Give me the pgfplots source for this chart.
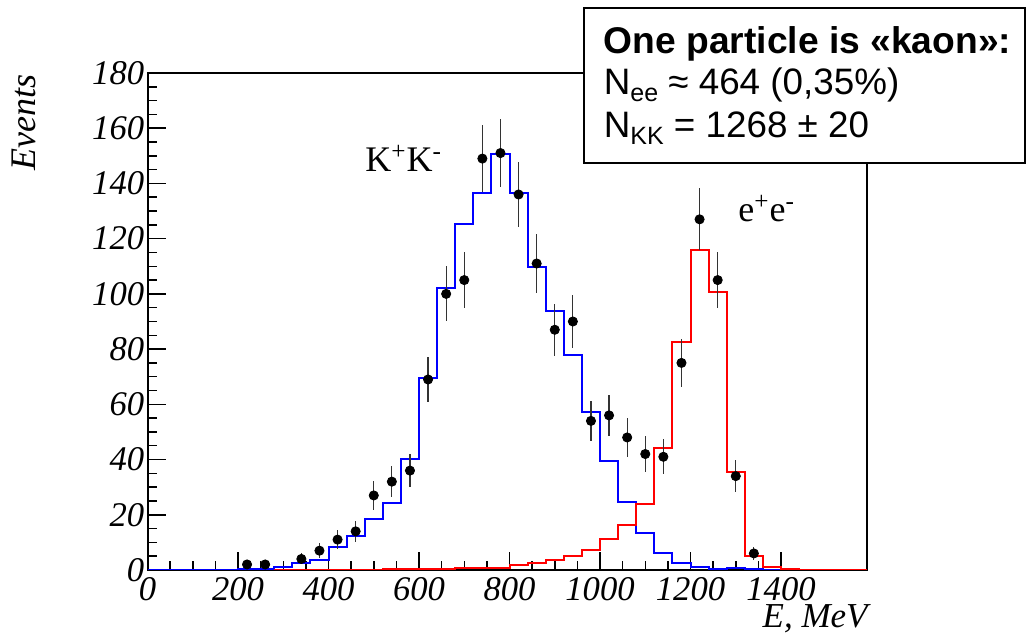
\documentclass[border=0pt]{standalone}
\usepackage{fontspec}
\setmainfont{Liberation Serif}
\newfontfamily\arial{Liberation Sans}
\usepackage{pgfplots}
\usepackage{pgfplotstable}
\pgfplotsset{compat=1.18}

% simulated K+K- spectrum (left bin edge, events)
\pgfplotstableread{
E    N
0    0
40   0
80   0
120  0
160  0.1
200  0.2
240  0.3
280  1.0
320  2.7
360  3.6
400  8.2
440  12.3
480  18.6
520  24.4
560  40.2
600  69.6
640  102.3
680  125.3
720  136.5
760  150.6
800  136.7
840  109.9
880  93.7
920  77.7
960  57.1
1000 39.6
1040 24.7
1080 13.3
1120 6.3
1160 2.6
1200 1.0
1240 0.3
1280 0.6
1320 0.2
1360 0.1
1400 0
1590 0
}\kaons

% simulated e+e- spectrum (left bin edge, events)
\pgfplotstableread{
E    N
280  0
520  0.2
560  0.4
600  0.5
640  0.5
680  0.7
720  0.8
760  0.9
800  1.8
840  2.4
880  3.5
920  5.2
960  7.2
1000 11.1
1040 16.3
1080 23.9
1120 44.1
1160 82.7
1200 116.0
1240 100.5
1280 35.4
1320 5.1
1360 1.0
1400 0.3
1440 0
1590 0
}\electrons

% measured events (bin centre, events, statistical error)
\pgfplotstableread{
E    N    dN
220  2    1.41
260  2    1.41
340  4    2.00
380  7    2.65
420  11   3.32
460  14   3.74
500  27   5.20
540  32   5.66
580  36   6.00
620  69   8.31
660  100  10.00
700  105  10.25
740  149  12.21
780  151  12.29
820  136  11.66
860  111  10.54
900  87   9.33
940  90   9.49
980  54   7.35
1020 56   7.48
1060 48   6.93
1100 42   6.48
1140 41   6.40
1180 75   8.66
1220 127  11.27
1260 105  10.25
1300 34   5.83
1340 6    2.45
}\measured

\begin{document}
\begin{tikzpicture}
\useasboundingbox (0,0) rectangle (513pt,317.5pt);
\begin{axis}[
  at={(73.75pt,32.5pt)}, anchor=south west,
  scale only axis, width=359.75pt, height=248.5pt,
  xmin=0, xmax=1590, ymin=0, ymax=180,
  xtick={0,200,...,1400}, ytick={0,20,...,180},
  minor x tick num=3, minor y tick num=3,
  tick align=inside, xtick pos=bottom, ytick pos=left,
  major tick length=9pt, minor tick length=4.5pt,
  axis line style={line width=1pt},
  every tick/.style={black, line width=0.75pt},
  /pgf/number format/assume math mode=true,
  /pgf/number format/1000 sep={},
  tick label style={font=\itshape\fontsize{17.3}{20}\selectfont},
  xticklabel style={anchor=north, inner sep=0pt, yshift=-3.3pt},
  yticklabel style={anchor=east, inner sep=0pt, xshift=-1.5pt},
]
\addplot[const plot, draw={rgb,255:red,0;green,0;blue,255}, line width=1pt] table[x=E, y=N] {\kaons};
\addplot[const plot, draw={rgb,255:red,255;green,0;blue,0}, line width=1pt] table[x=E, y=N] {\electrons};
\addplot[only marks, mark=*, mark size=2.3pt, mark options={fill=black, draw=black},
  error bars/.cd, y dir=both, y explicit, error mark=none,
  error bar style={line width=0.6pt, black!80}]
  table[x=E, y=N, y error=dN] {\measured};
\end{axis}

% channel labels
\node[anchor=base west, inner sep=0pt, font=\fontsize{18}{20}\selectfont] at (182.5pt,231.7pt) {K\textsuperscript{+}K\textsuperscript{-}};
\node[anchor=base west, inner sep=0pt, font=\fontsize{18}{20}\selectfont] at (369pt,206.6pt) {e\textsuperscript{+}e\textsuperscript{-}};

% axis titles
\node[rotate=90, inner sep=0pt, font=\itshape\fontsize{18}{20}\selectfont] at (12pt,256.25pt) {Events};
\node[anchor=base east, inner sep=0pt, font=\itshape\fontsize{17.5}{20}\selectfont] at (434pt,3.5pt) {E, MeV};

% fit summary
\draw[line width=0.9pt, fill=white] (292pt,313.5pt) rectangle (512.5pt,236pt);
\node[anchor=base west, inner sep=0pt, font=\arial\bfseries\fontsize{18.6}{20}\selectfont] at (301.7pt,290.8pt) {One particle is «kaon»:};
\node[anchor=base west, inner sep=0pt, font=\arial\fontsize{18.4}{20}\selectfont] at (301.7pt,270pt) {N\raisebox{-3.5pt}{\fontsize{12.5}{14}\selectfont ee} ≈ 464 (0,35\%)};
\node[anchor=base west, inner sep=0pt, font=\arial\fontsize{18.4}{20}\selectfont] at (301.7pt,248.5pt) {N\raisebox{-3.5pt}{\fontsize{12.5}{14}\selectfont KK} = 1268 ± 20};
\end{tikzpicture}
\end{document}
